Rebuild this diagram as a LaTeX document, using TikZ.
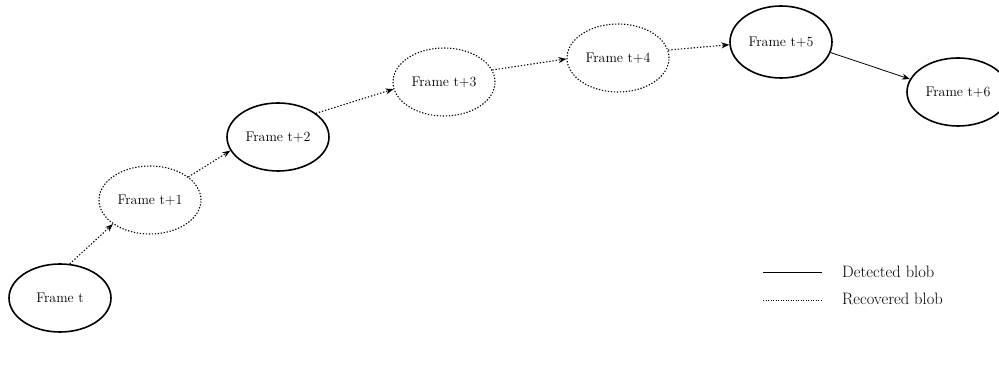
\documentclass[tikz,border=0pt]{standalone}
\usetikzlibrary{shapes.geometric,arrows.meta}
\begin{document}
\begin{tikzpicture}[x=1pt,y=-1pt,
  blob/.style={ellipse,inner sep=0pt,minimum width=102pt,minimum height=68pt,font=\fontsize{14}{16}\selectfont},
  detected/.style={blob,draw,line width=1.6pt},
  recovered/.style={blob,draw,line width=1.1pt,dash pattern=on 1.3pt off 1.7pt},
  reclink/.style={line width=1.1pt,dash pattern=on 1.3pt off 1.9pt,-{Stealth[length=8pt,width=6pt]}},
  detlink/.style={line width=0.8pt,-{Stealth[length=8pt,width=6pt]}},
  legtext/.style={anchor=west,inner sep=0pt,font=\fontsize{16.5}{18}\selectfont}]
\useasboundingbox (0,0) rectangle (999,371);
\node[detected]  (f0) at (60,298) {Frame t};
\node[recovered] (f1) at (150,200) {Frame t+1};
\node[detected]  (f2) at (278,137) {Frame t+2};
\node[recovered] (f3) at (444,82) {Frame t+3};
\node[recovered] (f4) at (618,58) {Frame t+4};
\node[detected,minimum height=72pt] (f5) at (781,42) {Frame t+5};
\node[detected]  (f6) at (958,92) {Frame t+6};
\draw[reclink] (f0.74) -- (f1.213);
\draw[reclink] (f1.31) -- (f2.196);
\draw[reclink] (f2.32) -- (f3.188);
\draw[reclink] (f3.14) -- (f4.181);
\draw[reclink] (f4.9) -- (f5.183);
\draw[detlink] (f5.348) -- (f6.165);
\coordinate (l1a) at (763,273); \coordinate (l1b) at (822,273);
\coordinate (l2a) at (763,300); \coordinate (l2b) at (822,300);
\draw[line width=1pt] (l1a) -- (l1b);
\draw[line width=0.9pt,dash pattern=on 1pt off 1.5pt] (l2a) -- (l2b);
\node[legtext] (t1) at (842,272) {Detected blob};
\node[legtext] (t2) at (842,299) {Recovered blob};
\end{tikzpicture}
\end{document}
